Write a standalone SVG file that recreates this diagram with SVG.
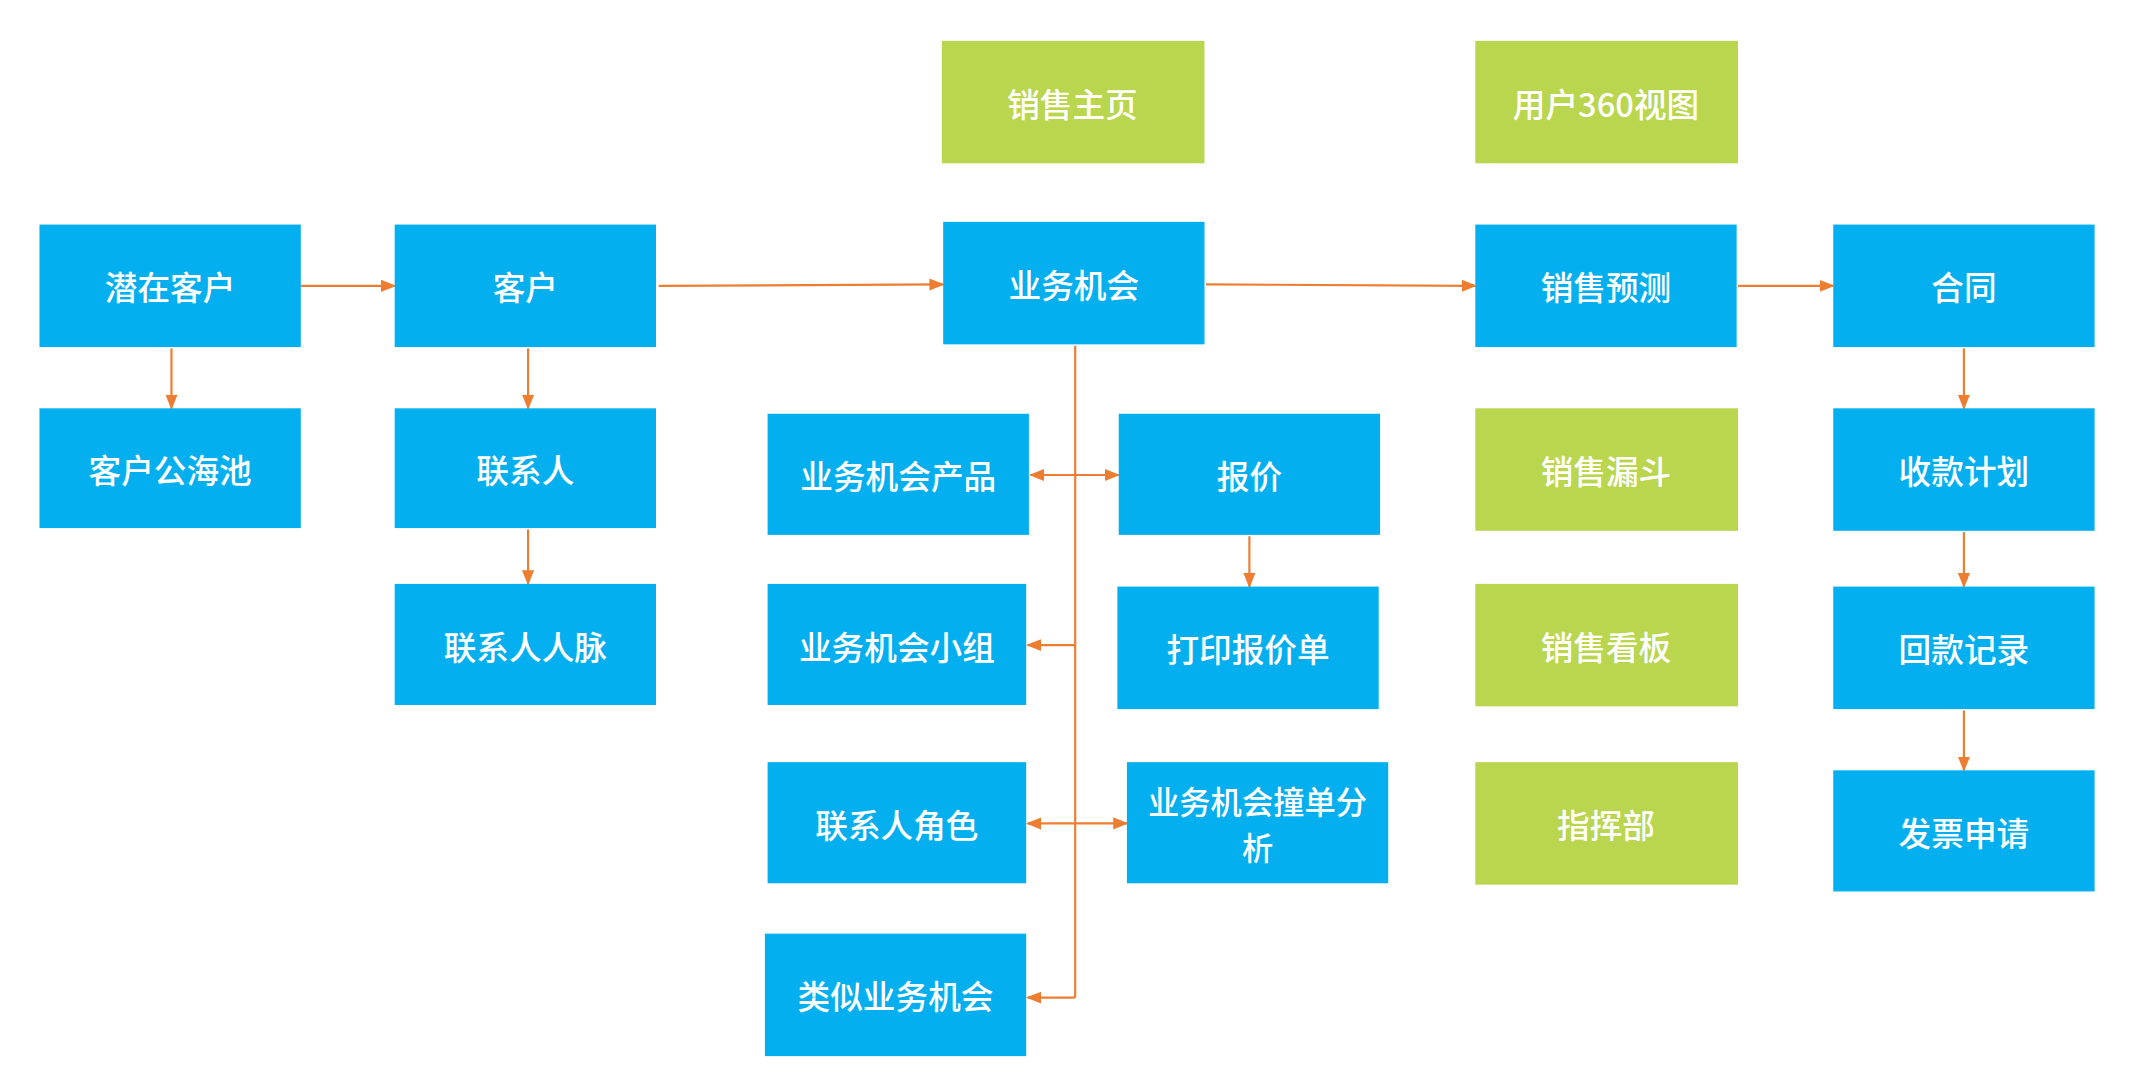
<svg xmlns="http://www.w3.org/2000/svg" width="2134" height="1092" viewBox="0 0 2134 1092">
<style>
.b{fill:#03AFEE}.g{fill:#BAD54E}
text{font-family:"Noto Sans CJK SC","Noto Sans",sans-serif;font-size:24px;font-weight:500;fill:#fff;text-anchor:middle;dominant-baseline:central}
.c path{stroke:#ED7D31;stroke-width:1.6;fill:none}
</style>
<defs>
<marker id="a" viewBox="0 0 10 10" refX="9" refY="5" markerWidth="7" markerHeight="7" orient="auto-start-reverse"><path d="M0,1L10,5L0,9z" fill="#ED7D31"/></marker>
</defs>
<rect width="2134" height="1092" fill="#fff"/>
<g transform="scale(1.361)">
<g class="c">
<path d="M221,210H290" marker-end="url(#a)"/>
<path d="M484,210L693,209" marker-end="url(#a)"/>
<path d="M886,209L1084,210" marker-end="url(#a)"/>
<path d="M1277,210H1347" marker-end="url(#a)"/>
<path d="M126,256V300" marker-end="url(#a)"/>
<path d="M388,256V300" marker-end="url(#a)"/>
<path d="M388,389V429" marker-end="url(#a)"/>
<path d="M918,394V431" marker-end="url(#a)"/>
<path d="M1443,256V300" marker-end="url(#a)"/>
<path d="M1443,391V431" marker-end="url(#a)"/>
<path d="M1443,522V566" marker-end="url(#a)"/>
<path d="M790,254V733"/>
<path d="M757,349H822" marker-start="url(#a)" marker-end="url(#a)"/>
<path d="M790,474H755" marker-end="url(#a)"/>
<path d="M755,605H828" marker-start="url(#a)" marker-end="url(#a)"/>
<path d="M790,733H755" marker-end="url(#a)"/>
</g>
<g id="n1"><rect class="g" x="692" y="30" width="193" height="90"/><text x="788" y="75">销售主页</text></g>
<g id="n2"><rect class="g" x="1084" y="30" width="193" height="90"/><text x="1180" y="75">用户360视图</text></g>
<g id="n3"><rect class="b" x="29" y="165" width="192" height="90"/><text x="125" y="210">潜在客户</text></g>
<g id="n4"><rect class="b" x="290" y="165" width="192" height="90"/><text x="386" y="210">客户</text></g>
<g id="n5"><rect class="b" x="693" y="163" width="192" height="90"/><text x="789" y="208">业务机会</text></g>
<g id="n6"><rect class="b" x="1084" y="165" width="192" height="90"/><text x="1180" y="210">销售预测</text></g>
<g id="n7"><rect class="b" x="1347" y="165" width="192" height="90"/><text x="1443" y="210">合同</text></g>
<g id="n8"><rect class="b" x="29" y="300" width="192" height="88"/><text x="125" y="344">客户公海池</text></g>
<g id="n9"><rect class="b" x="290" y="300" width="192" height="88"/><text x="386" y="344">联系人</text></g>
<g id="n10"><rect class="b" x="290" y="429" width="192" height="89"/><text x="386" y="474">联系人人脉</text></g>
<g id="n11"><rect class="b" x="564" y="304" width="192" height="89"/><text x="660" y="349">业务机会产品</text></g>
<g id="n12"><rect class="b" x="822" y="304" width="192" height="89"/><text x="918" y="349">报价</text></g>
<g id="n13"><rect class="g" x="1084" y="300" width="193" height="90"/><text x="1180" y="345">销售漏斗</text></g>
<g id="n14"><rect class="b" x="1347" y="300" width="192" height="90"/><text x="1443" y="345">收款计划</text></g>
<g id="n15"><rect class="b" x="564" y="429" width="190" height="89"/><text x="659" y="474">业务机会小组</text></g>
<g id="n16"><rect class="b" x="821" y="431" width="192" height="90"/><text x="917" y="476">打印报价单</text></g>
<g id="n17"><rect class="g" x="1084" y="429" width="193" height="90"/><text x="1180" y="474">销售看板</text></g>
<g id="n18"><rect class="b" x="1347" y="431" width="192" height="90"/><text x="1443" y="476">回款记录</text></g>
<g id="n19"><rect class="b" x="564" y="560" width="190" height="89"/><text x="659" y="605">联系人角色</text></g>
<g id="n20"><rect class="b" x="828" y="560" width="192" height="89"/><text x="924" y="588" style="font-size:23px">业务机会撞单分</text><text x="924" y="622" style="font-size:23px">析</text></g>
<g id="n21"><rect class="g" x="1084" y="560" width="193" height="90"/><text x="1180" y="605">指挥部</text></g>
<g id="n22"><rect class="b" x="1347" y="566" width="192" height="89"/><text x="1443" y="611">发票申请</text></g>
<g id="n23"><rect class="b" x="562" y="686" width="192" height="90"/><text x="658" y="731">类似业务机会</text></g>
</g>
</svg>
